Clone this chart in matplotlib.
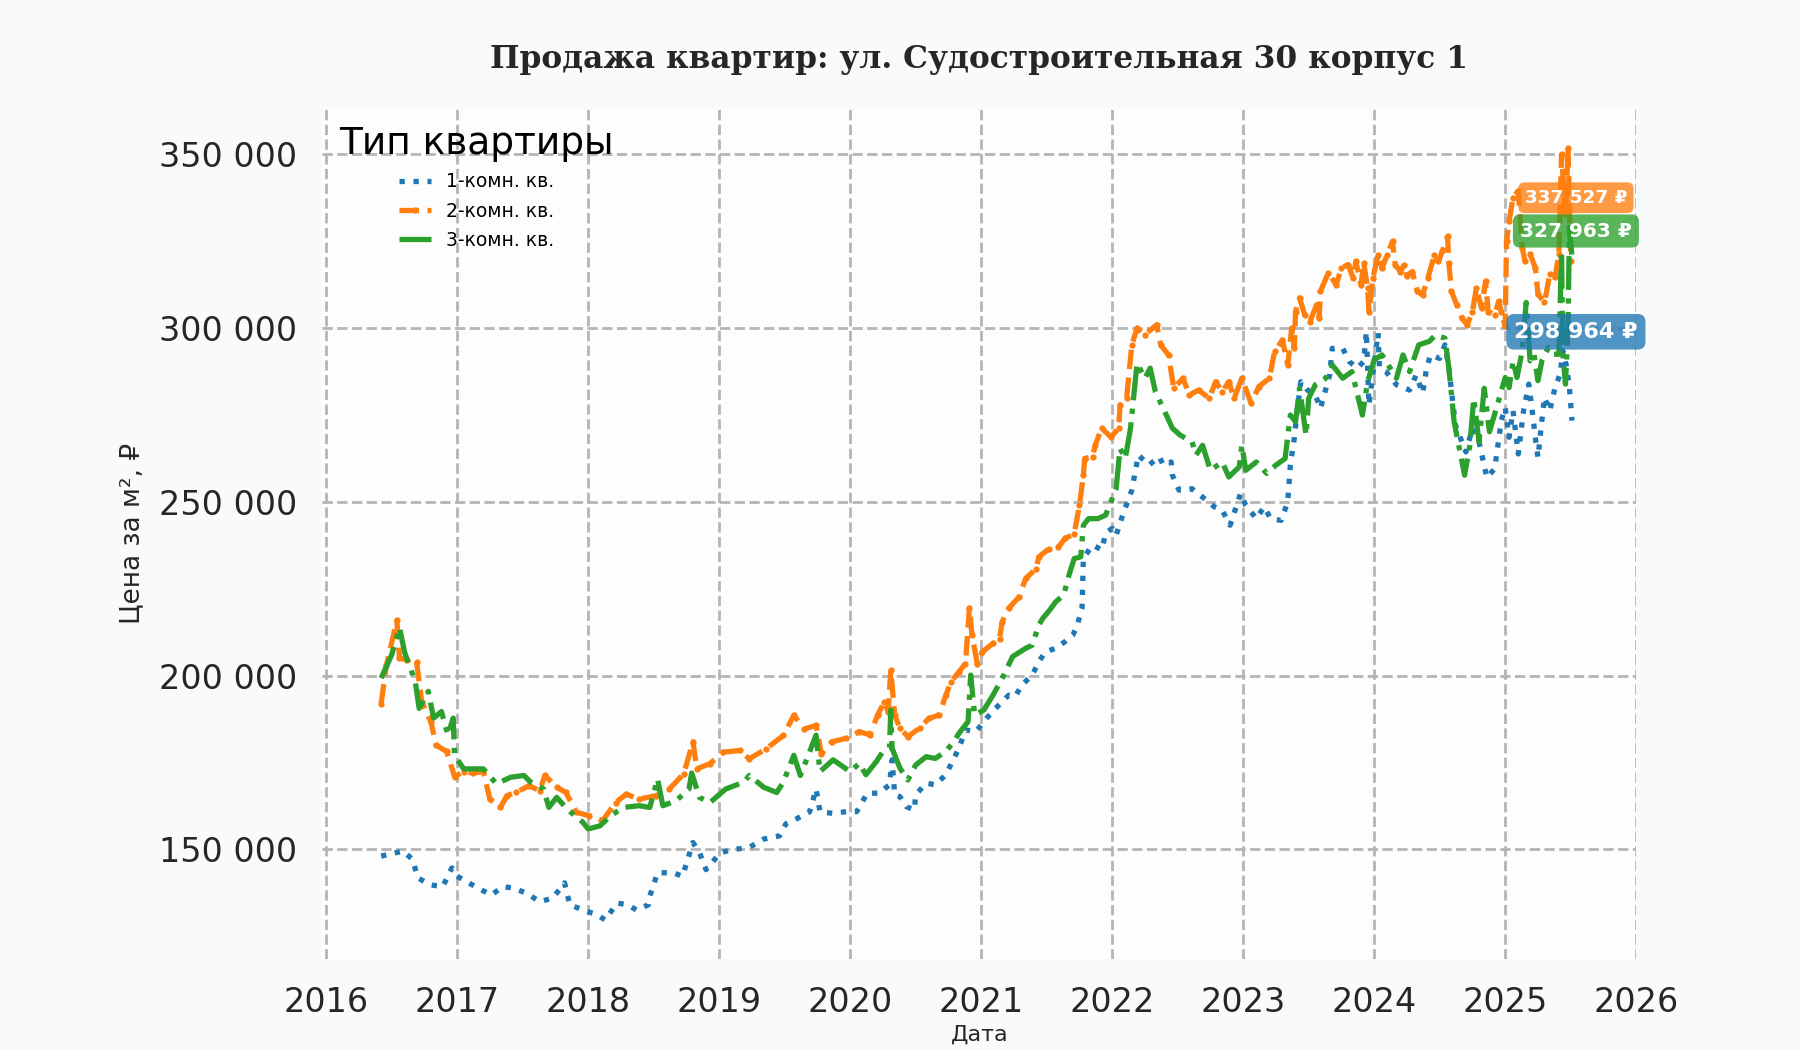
import matplotlib
matplotlib.use("Agg")
import matplotlib.pyplot as plt
from matplotlib.ticker import FuncFormatter, MultipleLocator

# --- data (decimal year, price per m2) ---
x1 = [2016.42, 2016.52, 2016.59, 2016.66, 2016.70, 2016.80, 2016.89, 2016.96, 2017.00, 2017.14,
      2017.26, 2017.35, 2017.43, 2017.53, 2017.63, 2017.73, 2017.82, 2017.86, 2017.96, 2018.07,
      2018.13, 2018.22, 2018.30, 2018.37, 2018.46, 2018.47, 2018.53, 2018.65, 2018.72, 2018.80,
      2018.85, 2018.90, 2019.01, 2019.11, 2019.23, 2019.34, 2019.46, 2019.51, 2019.59, 2019.69,
      2019.74, 2019.77, 2019.87, 2019.97, 2020.05, 2020.13, 2020.22, 2020.30, 2020.32, 2020.34,
      2020.38, 2020.43, 2020.49, 2020.50, 2020.58, 2020.65, 2020.73, 2020.78, 2020.83, 2020.88,
      2020.96, 2021.04, 2021.11, 2021.21, 2021.26, 2021.31, 2021.39, 2021.44, 2021.49, 2021.57,
      2021.64, 2021.70, 2021.73, 2021.77, 2021.78, 2021.85, 2021.92, 2021.95, 2022.00, 2022.03,
      2022.08, 2022.15, 2022.20, 2022.28, 2022.36, 2022.39, 2022.45, 2022.46, 2022.51, 2022.61,
      2022.69, 2022.78, 2022.84, 2022.90, 2022.98, 2023.02, 2023.10, 2023.16, 2023.21, 2023.29,
      2023.34, 2023.36, 2023.39, 2023.41, 2023.44, 2023.49, 2023.55, 2023.59, 2023.66, 2023.68,
      2023.76, 2023.81, 2023.87, 2023.92, 2023.94, 2023.96, 2024.03, 2024.04, 2024.09, 2024.17,
      2024.27, 2024.32, 2024.37, 2024.40, 2024.43, 2024.50, 2024.54, 2024.57, 2024.62, 2024.70,
      2024.75, 2024.80, 2024.86, 2024.92, 2024.97, 2025.00, 2025.03, 2025.06, 2025.10, 2025.14,
      2025.18, 2025.20, 2025.23, 2025.25, 2025.28, 2025.30, 2025.34, 2025.38, 2025.42, 2025.44,
      2025.47, 2025.49, 2025.51]
y1 = [148100, 149000, 149500, 147100, 141800, 139800, 139300, 144700, 142300, 139300,
      136900, 139300, 138900, 137400, 135000, 136000, 140400, 134100, 132600, 131200,
      129700, 134600, 134100, 132600, 134100, 136500, 143300, 143300, 142300, 152000,
      149100, 144200, 149100, 150000, 150600, 153000, 153900, 157400, 158800, 160800,
      167400, 160800, 160400, 160900, 160900, 166200, 166200, 168600, 175800, 165700,
      165200, 162300, 161400, 165700, 169100, 168600, 171500, 175300, 179100, 184400,
      183900, 187700, 190600, 194400, 194000, 197300, 200200, 204000, 206900, 207900,
      209800, 211700, 214100, 219400, 233800, 237600, 236200, 241000, 242400, 240400,
      246200, 253400, 263500, 260600, 263000, 260600, 261500, 257700, 253400, 253800,
      251400, 248600, 247600, 243300, 252400, 249000, 245200, 248600, 245200, 244700,
      250000, 260600, 268300, 275500, 284600, 282200, 280800, 276900, 286500, 294200,
      294200, 290400, 288500, 290400, 299000, 277900, 298600, 288500, 287500, 283700,
      282200, 286500, 281300, 288500, 292300, 291300, 295200, 288500, 272100, 264400,
      271200, 267300, 257000, 259600, 273400, 277200, 268600, 276200, 263800, 276200,
      283900, 278200, 268600, 262800, 273400, 280100, 276200, 282900, 286800, 293500,
      288700, 282900, 273400]

x2 = [2016.42, 2016.46, 2016.54, 2016.56, 2016.62, 2016.69, 2016.73, 2016.80, 2016.84, 2016.92,
      2016.98, 2017.05, 2017.12, 2017.20, 2017.25, 2017.33, 2017.38, 2017.45, 2017.55, 2017.63,
      2017.67, 2017.76, 2017.83, 2017.91, 2018.01, 2018.11, 2018.21, 2018.29, 2018.39, 2018.52,
      2018.62, 2018.73, 2018.80, 2018.83, 2018.93, 2019.03, 2019.16, 2019.23, 2019.36, 2019.49,
      2019.57, 2019.65, 2019.74, 2019.78, 2019.86, 2019.97, 2020.07, 2020.15, 2020.21, 2020.26,
      2020.29, 2020.31, 2020.34, 2020.38, 2020.44, 2020.53, 2020.60, 2020.68, 2020.73, 2020.77,
      2020.83, 2020.88, 2020.91, 2020.93, 2020.97, 2021.01, 2021.09, 2021.14, 2021.16, 2021.21,
      2021.29, 2021.34, 2021.42, 2021.44, 2021.52, 2021.59, 2021.64, 2021.71, 2021.75, 2021.78,
      2021.79, 2021.85, 2021.87, 2021.92, 2021.99, 2022.05, 2022.06, 2022.11, 2022.15, 2022.19,
      2022.25, 2022.34, 2022.37, 2022.43, 2022.47, 2022.54, 2022.59, 2022.66, 2022.74, 2022.79,
      2022.84, 2022.89, 2022.93, 2022.99, 2023.06, 2023.12, 2023.20, 2023.24, 2023.30, 2023.34,
      2023.37, 2023.39, 2023.40, 2023.43, 2023.47, 2023.51, 2023.56, 2023.58, 2023.59, 2023.65,
      2023.71, 2023.75, 2023.80, 2023.84, 2023.86, 2023.90, 2023.92, 2023.95, 2023.96, 2023.99,
      2024.03, 2024.06, 2024.10, 2024.14, 2024.16, 2024.20, 2024.23, 2024.25, 2024.29, 2024.33,
      2024.37, 2024.41, 2024.46, 2024.49, 2024.52, 2024.56, 2024.57, 2024.59, 2024.63, 2024.67,
      2024.71, 2024.75, 2024.78, 2024.82, 2024.85, 2024.87, 2024.92, 2024.95, 2024.97, 2025.00,
      2025.01, 2025.03, 2025.06, 2025.10, 2025.13, 2025.15, 2025.19, 2025.23, 2025.25, 2025.30,
      2025.34, 2025.38, 2025.41, 2025.43, 2025.46, 2025.48, 2025.50]
y2 = [192000, 203000, 215900, 205100, 204500, 204000, 192500, 186700, 180000, 178200,
      171000, 172400, 172000, 172400, 164500, 162100, 165500, 166400, 168400, 166900,
      171300, 167900, 166400, 160700, 159700, 158300, 163500, 165900, 164500, 165500,
      167400, 171800, 181000, 173200, 174700, 178000, 178500, 176100, 179000, 182800,
      188600, 184700, 185700, 177500, 181000, 182000, 183900, 183000, 188700, 192500,
      189700, 201600, 188700, 184900, 182500, 184900, 187700, 188700, 194400, 198300,
      201100, 203500, 219400, 211700, 203500, 206900, 209300, 210700, 215500, 219400,
      222700, 228000, 230800, 234200, 236600, 237000, 239500, 240800, 249000, 257700,
      262500, 263000, 266300, 271200, 268700, 271200, 277900, 279800, 295200, 300000,
      298100, 301000, 295200, 292300, 282700, 285600, 280800, 282200, 279800, 284600,
      281700, 284600, 279800, 285600, 278400, 283200, 285600, 293300, 296600, 289400,
      300000, 294200, 304800, 308700, 303800, 301900, 306700, 302900, 310600, 315900,
      312500, 317300, 318300, 314400, 319200, 312500, 318800, 311500, 304800, 314400,
      321200, 317300, 321200, 325000, 318300, 316300, 318300, 314900, 316300, 310600,
      309600, 314400, 321200, 319200, 322100, 326400, 318800, 310600, 306700, 302900,
      301000, 304800, 311500, 305800, 313500, 304800, 303800, 307700, 304800, 300500,
      325000, 330800, 337600, 339500, 323200, 319400, 321300, 317400, 309800, 307400,
      315500, 314600, 321300, 350000, 332800, 351900, 319400]

x3 = [2016.42, 2016.50, 2016.56, 2016.60, 2016.68, 2016.71, 2016.78, 2016.82, 2016.88, 2016.93,
      2016.97, 2016.98, 2017.05, 2017.15, 2017.20, 2017.30, 2017.41, 2017.51, 2017.56, 2017.66,
      2017.70, 2017.76, 2017.84, 2017.96, 2018.00, 2018.09, 2018.17, 2018.27, 2018.39, 2018.47,
      2018.53, 2018.57, 2018.67, 2018.77, 2018.79, 2018.85, 2018.93, 2019.05, 2019.19, 2019.23,
      2019.34, 2019.44, 2019.49, 2019.57, 2019.62, 2019.74, 2019.77, 2019.87, 2020.00, 2020.07,
      2020.12, 2020.20, 2020.25, 2020.30, 2020.31, 2020.32, 2020.38, 2020.44, 2020.50, 2020.58,
      2020.65, 2020.73, 2020.79, 2020.83, 2020.90, 2020.92, 2020.95, 2021.02, 2021.09, 2021.16,
      2021.24, 2021.34, 2021.39, 2021.44, 2021.47, 2021.52, 2021.57, 2021.63, 2021.67, 2021.71,
      2021.76, 2021.78, 2021.82, 2021.89, 2021.95, 2021.99, 2022.03, 2022.06, 2022.10, 2022.14,
      2022.19, 2022.25, 2022.29, 2022.33, 2022.39, 2022.46, 2022.52, 2022.61, 2022.64, 2022.69,
      2022.75, 2022.84, 2022.89, 2022.97, 2022.99, 2023.02, 2023.10, 2023.18, 2023.25, 2023.32,
      2023.36, 2023.40, 2023.43, 2023.48, 2023.50, 2023.55, 2023.63, 2023.68, 2023.76, 2023.83,
      2023.91, 2023.95, 2024.00, 2024.06, 2024.17, 2024.22, 2024.27, 2024.34, 2024.42, 2024.47,
      2024.54, 2024.57, 2024.61, 2024.69, 2024.73, 2024.76, 2024.80, 2024.84, 2024.88, 2024.94,
      2025.00, 2025.03, 2025.06, 2025.09, 2025.13, 2025.16, 2025.19, 2025.22, 2025.25, 2025.28,
      2025.33, 2025.37, 2025.41, 2025.43, 2025.44, 2025.46, 2025.48, 2025.49, 2025.51]
y3 = [199300, 206000, 213800, 206600, 198400, 190600, 195500, 187800, 189700, 182900,
      187800, 177100, 173200, 173200, 173200, 168900, 170800, 171300, 169400, 167400,
      162100, 165000, 161600, 157800, 155900, 156800, 159700, 162100, 162600, 162100,
      170300, 162600, 164000, 167400, 172000, 165000, 163500, 167400, 169400, 171300,
      167900, 166400, 169400, 177100, 171300, 182900, 172400, 175800, 172400, 174800,
      171500, 175300, 178200, 179100, 190100, 179100, 173400, 170000, 174300, 176700,
      176200, 178200, 181000, 183400, 186800, 200200, 188700, 190100, 194400, 199200,
      205500, 207900, 208800, 214600, 216500, 218750, 221300, 223200, 228900, 233700,
      234200, 243300, 245200, 245200, 246200, 250000, 253800, 265400, 262500, 271200,
      289900, 285600, 288500, 281700, 276900, 271200, 269200, 267300, 263500, 266300,
      259100, 261500, 257200, 260100, 266300, 259100, 261500, 258200, 260600, 262500,
      275000, 273100, 282700, 269200, 279800, 283700, 285600, 289400, 285600, 287500,
      275000, 284600, 290900, 292300, 285600, 292300, 287500, 295200, 296200, 298100,
      297100, 288500, 273100, 257700, 266300, 279800, 267300, 282700, 270200, 277900,
      285800, 282900, 290600, 285800, 293500, 307400, 290600, 292500, 284900, 290600,
      294400, 292500, 292500, 322200, 292500, 283900, 300300, 329000, 320400]

labels = ["1-комн. кв.", "2-комн. кв.", "3-комн. кв."]
colors = ["#1f77b4", "#ff7f0e", "#2ca02c"]
last_text = ["298 964 ₽", "337 527 ₽", "327 963 ₽"]
last_vals = [298964, 337527, 327963]
years = list(range(2016, 2027))

plt.rcParams['font.family'] = ['DejaVu Sans']

fig = plt.figure(figsize=(18, 10.5), dpi=100, facecolor="#f8fafc")
ax = fig.add_axes([0.179, 0.087, 0.730, 0.809])
ax.set_facecolor("#fdfdfe")

ax.plot(x1, y1, ls=":", lw=3.8, color=colors[0], label=labels[0])
ax.plot(x2, y2, ls="--", lw=3.8, marker=".", ms=7, color=colors[1], label=labels[1])
ax.plot(x3, y3, ls="-.", lw=3.8, color=colors[2], label=labels[2])

# value boxes at the right end
sizes = [16, 13.2, 14.5]
for txt, v, c, fs in zip(last_text, last_vals, colors, sizes):
    ax.text(2025.54, v, txt, ha="center", va="center", fontsize=fs, fontweight="bold",
            color="white", clip_on=False, zorder=5,
            bbox=dict(boxstyle="round,pad=0.35", fc=c, ec="none", alpha=0.78))

ax.set_xlim(2015.97, 2026.0)
ax.set_xticks(years)
ax.yaxis.set_major_locator(MultipleLocator(50000))
ax.yaxis.set_major_formatter(FuncFormatter(lambda v, p: f"{int(v):,}".replace(",", " ")))
ax.margins(y=0.05)

ax.grid(True, ls="--", lw=2, color="#b5b5b5")
ax.set_axisbelow(True)
for s in ax.spines.values():
    s.set_visible(False)
ax.tick_params(axis="both", length=0, labelsize=24, labelcolor="#262626")
ax.tick_params(axis="x", pad=20)
ax.tick_params(axis="y", pad=18)

ax.set_xlabel("Дата", fontsize=16, color="#262626", labelpad=4)
ax.set_ylabel("Цена за м², ₽", fontsize=19, color="#262626", labelpad=10)
ax.set_title("Продажа квартир: ул. Судостроительная 30 корпус 1", fontsize=22.5,
             fontweight="bold", family="DejaVu Serif", color="#262626", pad=30)

leg = ax.legend(title="Тип квартиры", loc="upper left", fontsize=13.5, title_fontsize=27,
                frameon=False, handlelength=1.7, borderaxespad=0.5, labelspacing=0.55)

fig.savefig("out.png", dpi=100, facecolor=fig.get_facecolor())
